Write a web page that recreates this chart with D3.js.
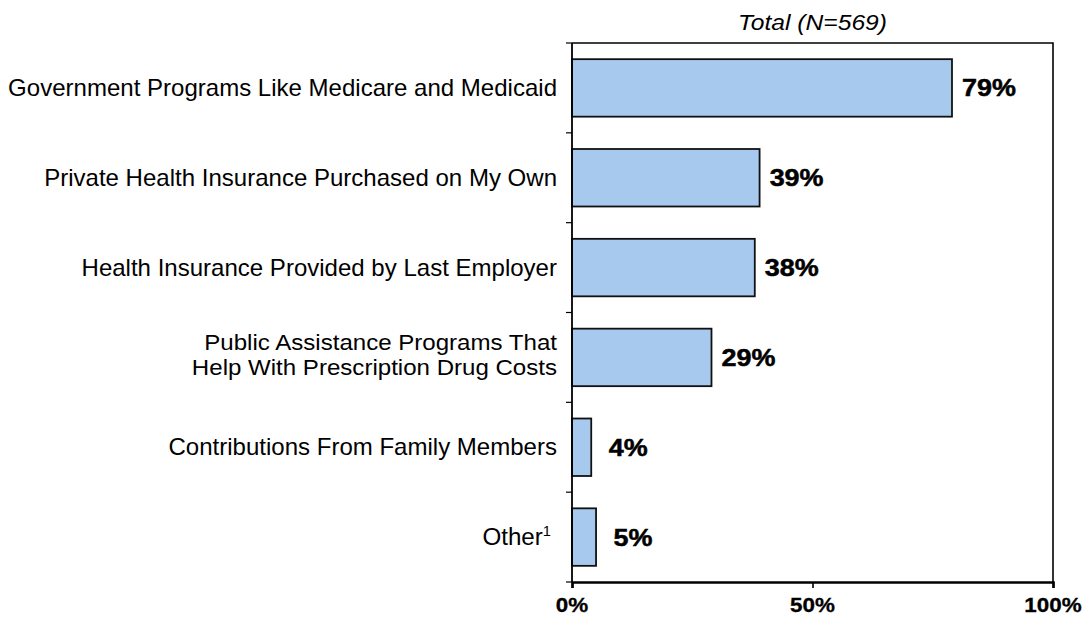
<!DOCTYPE html>
<html><head><meta charset="utf-8">
<script src="https://cdn.jsdelivr.net/npm/d3@7"></script>
<style>body{margin:0;background:#fff}svg{display:block}</style>
</head><body>
<script>
const categories = [
  ["Government Programs Like Medicare and Medicaid"],
  ["Private Health Insurance Purchased on My Own"],
  ["Health Insurance Provided by Last Employer"],
  ["Public Assistance Programs That", "Help With Prescription Drug Costs"],
  ["Contributions From Family Members"],
  ["Other"]
];
const values = [79, 39, 38, 29, 4, 5];
const tickValues = [0, 50, 100];
const title = "Total (N=569)";

const W = 1089, H = 618;
const L = 572, R = 1053, T = 43, B = 582;
const FONT = "Liberation Sans, Arial, sans-serif";
const svg = d3.select("body").append("svg").attr("width", W).attr("height", H);
const x = d3.scaleLinear().domain([0, 100]).range([L, R]);
const y = d3.scaleBand().domain(d3.range(categories.length)).range([T, B]).paddingInner(0.36).paddingOuter(0.18);
const yb = d3.scaleBand().domain(d3.range(categories.length)).range([T, B]);

// stretched text helper
function stext(px, py, sx, anchor) {
  return svg.append("g").attr("transform", `translate(${px},${py}) scale(${sx},1)`)
    .append("text").attr("text-anchor", anchor).attr("font-family", FONT).attr("fill", "#000");
}

// frame top/right
svg.append("path").attr("d", `M${L},${T}H${R}V${B}`).attr("fill","none").attr("stroke","#000").attr("stroke-width",1.6);

// bars
svg.selectAll("rect.bar").data(values).join("rect").attr("class","bar")
  .attr("x", x(0)).attr("y", (d,i)=>y(i)).attr("width", d=>x(d)-x(0)).attr("height", y.bandwidth())
  .attr("fill", "#A7C9EE").attr("stroke", "#111").attr("stroke-width", 1.8);

// left axis
svg.append("line").attr("x1",L).attr("x2",L).attr("y1",T).attr("y2",B).attr("stroke","#000").attr("stroke-width",1.8);
d3.range(categories.length+1).forEach(i=>{
  const yy = i < categories.length ? yb(i) : B;
  svg.append("line").attr("x1",L-6).attr("x2",L).attr("y1",yy).attr("y2",yy).attr("stroke","#000").attr("stroke-width",1.2);
});

// bottom axis
const xAxis = svg.append("g").attr("transform",`translate(0,${B})`)
  .call(d3.axisBottom(x).tickValues(tickValues).tickSize(6).tickFormat(d=>d+"%"));
xAxis.select(".domain").attr("stroke","#000").attr("stroke-width",2.6);
xAxis.selectAll(".tick line").attr("stroke","#000").attr("stroke-width",1.6);
xAxis.selectAll(".tick text").remove();
tickValues.forEach(v=>{
  stext(x(v), 612, 1.12, "middle").attr("font-size",20).attr("font-weight","bold")
    .attr("stroke","#000").attr("stroke-width",0.3).text(v+"%");
});

// category labels
categories.forEach((lines,i)=>{
  const cy = yb(i) + yb.bandwidth()/2;
  const n = lines.length;
  if (lines[0] === "Other") {
    const t = stext(551, cy + 8, 1.05, "end").attr("font-size",23);
    t.append("tspan").text("Other");
    t.append("tspan").attr("font-size",14).attr("dy",-9).text("1");
    return;
  }
  if (n > 1) {
    const lh = 24.8;
    lines.forEach((ln,k)=>{
      stext(557, cy + 5 + (k-(n-1)/2)*lh, 1.095, "end").attr("font-size",22).text(ln);
    });
    return;
  }
  stext(557, cy + 8, 1.045, "end").attr("font-size",23).text(lines[0]);
});

// value labels
values.forEach((d,i)=>{
  stext(x(d)+37, yb(i)+yb.bandwidth()/2+8.5, 1.1, "middle")
    .attr("font-size",24.5).attr("font-weight","bold").attr("stroke","#000").attr("stroke-width",0.5)
    .text(d+"%");
});

// title
stext((L+R)/2, 30, 1.12, "middle").attr("font-size",22).attr("font-style","italic").text(title);
</script>
</body></html>
